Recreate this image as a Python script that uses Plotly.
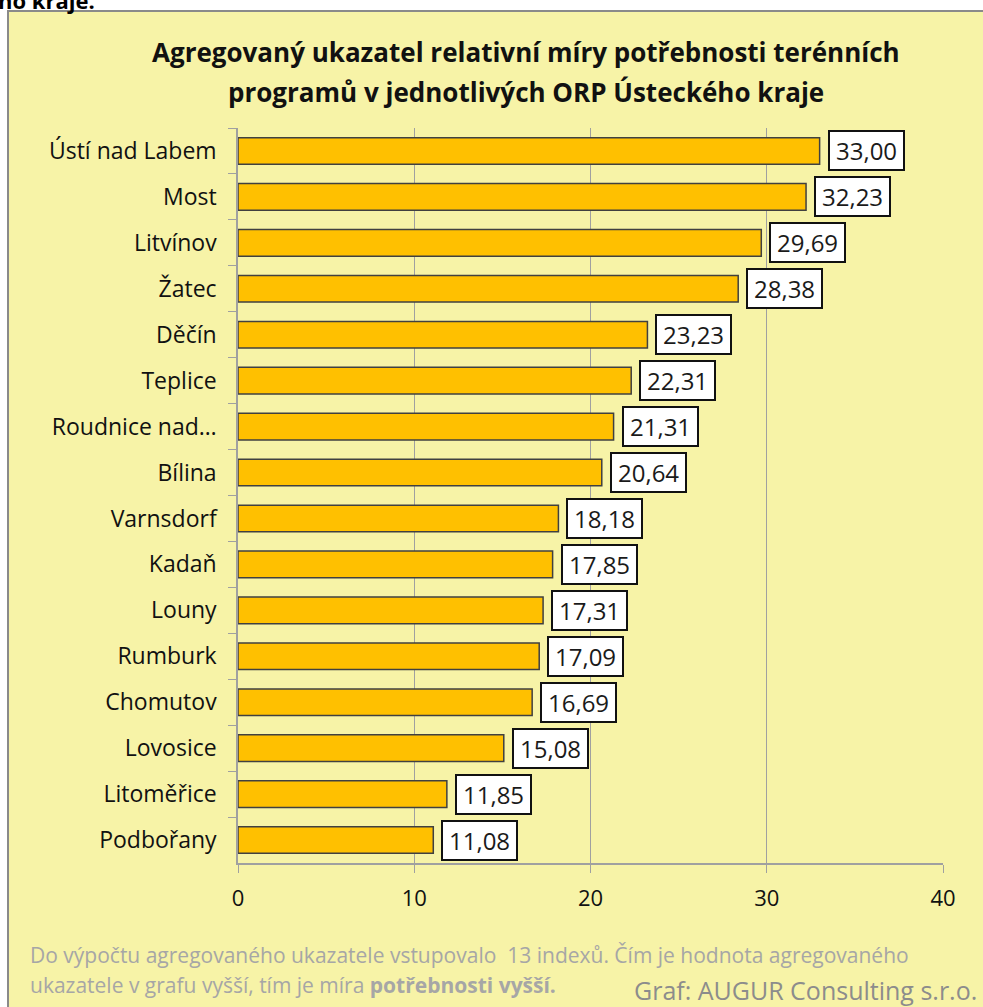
import plotly.graph_objects as go

categories = ["Ústí nad Labem", "Most", "Litvínov", "Žatec", "Děčín", "Teplice",
              "Roudnice nad…", "Bílina", "Varnsdorf", "Kadaň", "Louny", "Rumburk",
              "Chomutov", "Lovosice", "Litoměřice", "Podbořany"]
values = [33.00, 32.23, 29.69, 28.38, 23.23, 22.31, 21.31, 20.64, 18.18, 17.85,
          17.31, 17.09, 16.69, 15.08, 11.85, 11.08]
x_ticks = [0, 10, 20, 30, 40]

title_line1 = "<b>Agregovaný ukazatel relativní míry potřebnosti terénních</b>"
title_line2 = "<b>programů v jednotlivých ORP Ústeckého kraje</b>"
note_line1 = "Do výpočtu agregovaného ukazatele vstupovalo  13 indexů. Čím je hodnota agregovaného"
note_line2 = "ukazatele v grafu vyšší, tím je míra <b>potřebnosti vyšší.</b>"
source_text = "Graf: AUGUR Consulting s.r.o."
top_text = "<b>ho kraje.</b>"

FONT = "Open Sans"
W, H = 983, 1007
L, R, T, B = 238, 40, 128, 144
PW, PH = W - L - R, H - T - B

def px(xp):
    return (xp - L) / PW

def py(yp):
    return (H - B - yp) / PH

fig = go.Figure()
fig.add_trace(go.Bar(
    x=values, y=categories, orientation="h",
    marker=dict(color="#FFC000", line=dict(color="#404040", width=1.5)),
    width=0.58, hoverinfo="skip",
))

annotations = []
for c, v in zip(categories, values):
    annotations.append(dict(
        x=v, y=c, xref="x", yref="y", xanchor="left", yanchor="middle",
        xshift=8, text="\u2009" + f"{v:.2f}".replace(".", ",") + "\u2009",
        showarrow=False,
        font=dict(family=FONT, size=24, color="#1a1a1a"),
        bgcolor="white", bordercolor="#111111", borderwidth=2, borderpad=2,
    ))

annotations += [
    dict(x=px(526), y=py(52), xref="paper", yref="paper", text=title_line1,
         showarrow=False, xanchor="center", yanchor="middle",
         font=dict(family=FONT, size=26, color="#111111")),
    dict(x=px(526), y=py(92), xref="paper", yref="paper", text=title_line2,
         showarrow=False, xanchor="center", yanchor="middle",
         font=dict(family=FONT, size=26, color="#111111")),
    dict(x=px(28), y=py(955), xref="paper", yref="paper", text=note_line1,
         showarrow=False, xanchor="left", yanchor="middle",
         font=dict(family=FONT, size=21, color="#A6A6A6")),
    dict(x=px(28), y=py(985), xref="paper", yref="paper", text=note_line2,
         showarrow=False, xanchor="left", yanchor="middle",
         font=dict(family=FONT, size=21, color="#A6A6A6")),
    dict(x=px(979), y=py(990), xref="paper", yref="paper", text=source_text,
         showarrow=False, xanchor="right", yanchor="middle",
         font=dict(family=FONT, size=25, color="#8C8C8C")),
    dict(x=px(-4), y=py(0), xref="paper", yref="paper", text=top_text,
         showarrow=False, xanchor="left", yanchor="middle",
         font=dict(family=FONT, size=22, color="#000000")),
]

fig.update_layout(
    width=W, height=H,
    margin=dict(l=L, r=R, t=T, b=B),
    paper_bgcolor="white", plot_bgcolor="white",
    showlegend=False,
    annotations=annotations,
    shapes=[dict(type="rect", xref="paper", yref="paper",
                 x0=px(8), x1=px(992), y0=py(1012), y1=py(11),
                 fillcolor="#F7F3A7", line=dict(color="#8A8A8A", width=2),
                 layer="below")],
    bargap=0.4,
)
fig.update_xaxes(
    range=[0, 40], tickvals=x_ticks, ticktext=[str(t) for t in x_ticks],
    showgrid=True, gridcolor="#A0A0A0", gridwidth=1,
    showline=True, linecolor="#A0A0A0", linewidth=1.5,
    ticks="outside", ticklen=8, tickcolor="#A0A0A0",
    tickfont=dict(family=FONT, size=22, color="#111111"),
    ticklabelstandoff=7, zeroline=False,
)
fig.update_yaxes(
    autorange="reversed", type="category",
    showline=True, linecolor="#A0A0A0", linewidth=1.5,
    ticks="outside", ticklen=8, tickcolor="#A0A0A0", tickson="boundaries",
    tickfont=dict(family=FONT, size=23, color="#111111"),
    ticklabelstandoff=15, showgrid=False,
)

fig.write_html(
    "out.html",
    config={"displayModeBar": False},
    post_script="document.body.style.margin='0';document.body.style.overflow='hidden';",
)
